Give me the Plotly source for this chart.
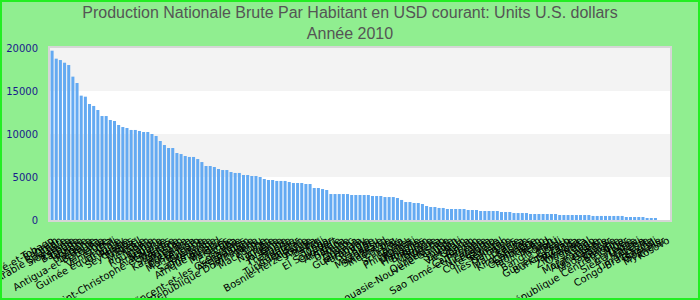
import plotly.graph_objects as go

countries = [
    "Trinité-et-Tobago", "Bahreïn", "Oman", "Arabie Saoudite", "Slovaquie", "Estonie", "Barbade",
    "Croatie", "Hongrie", "Pologne", "Lettonie", "Antigua-et-Barbuda", "Lituanie", "Libye",
    "Venezuela", "Chili", "Guinée équatoriale", "Uruguay", "Russie", "Seychelles", "Turquie",
    "Brésil", "Mexique", "Liban", "Roumanie", "Gabon", "Argentine",
    "Malaisie", "Saint-Christophe-et-Niévès", "Maurice", "Suriname", "Kazakhstan", "Panama", "Botswana", "Costa Rica",
    "Monténégro", "Bulgarie", "Grenade", "Sainte-Lucie", "Dominique", "Afrique du Sud", "Bélarus",
    "Maldives", "Serbie", "Cuba", "Colombie", "Saint-Vincent-et-les Grenadines", "Azerbaïdjan",
    "Jamaïque", "République Dominicaine", "Pérou", "Macédoine", "Iran", "Namibie", "Algérie",
    "Jordanie", "Chine", "Thaïlande", "Tunisie", "Équateur", "Turkménistan", "Albanie",
    "Bosnie-Herzégovine", "Angola", "Belize", "Fidji", "Tonga", "El Salvador", "Cap-Vert",
    "Arménie", "Samoa", "Ukraine", "Maroc", "Guyana", "Guatemala", "Paraguay", "Géorgie", "Syrie",
    "Vanuatu", "Micronésie", "Swaziland", "Indonésie", "Égypte", "Irak", "Sri Lanka", "Tuvalu",
    "Philippines", "Kiribati", "Mongolie", "Honduras", "Bhoutan", "Bolivie", "Moldavie", "Nigéria",
    "Ouzbékistan", "Papouasie-Nouvelle-Guinée", "Inde", "Soudan", "Djibouti", "Viet Nam", "Ghana",
    "Yémen", "Cameroun", "Sao Tomé-et-Principe", "Zambie", "Nicaragua", "Lesotho", "Côte d'Ivoire",
    "Sénégal", "Pakistan", "Îles Salomon", "Laos", "Mauritanie", "Kenya", "Kirghizistan", "Comores",
    "Cambodge", "Tadjikistan", "Bénin", "Tchad", "Bangladesh", "Haïti", "Mali", "Guinée-Bissau",
    "Burkina Faso", "Tanzanie", "Rwanda", "Zimbabwe", "Ouganda", "Népal", "Togo", "Mozambique",
    "Afghanistan", "Gambie", "Madagascar", "Guinée", "Éthiopie", "République Centrafricaine",
    "Niger", "Érythrée", "Sierra Leone", "Malawi", "Libéria", "Timor-Leste", "Congo-Brazzaville",
    "Burundi", "Somalie", "Myanmar", "Kosovo",
]

values = [
    19690, 18760, 18600, 18290, 18020, 16670, 15930, 14460, 14340, 13490,
    13260, 12790, 12090, 12090, 11630, 11510, 11050, 10810, 10700, 10470,
    10470, 10350, 10230, 10230, 10000, 9770, 9190, 8720, 8370, 8370,
    7790, 7670, 7440, 7330, 7330, 7090, 6740, 6280, 6280, 6160,
    5930, 5810, 5810, 5580, 5470, 5470, 5230, 5230, 5120, 5120,
    5000, 4770, 4650, 4650, 4540, 4540, 4540, 4420, 4300, 4300,
    4300, 4190, 4190, 3720, 3720, 3600, 3490, 3020, 3020, 3020,
    3020, 3020, 2910, 2910, 2910, 2910, 2910, 2790, 2790, 2790,
    2670, 2670, 2670, 2560, 2330, 2090, 2090, 1980, 1980, 1860,
    1630, 1510, 1510, 1400, 1400, 1280, 1280, 1280, 1280, 1280,
    1160, 1160, 1160, 1050, 1050, 1050, 1050, 1050, 930, 930,
    930, 810, 810, 810, 810, 700, 700, 700, 700, 700,
    700, 700, 580, 580, 580, 580, 580, 580, 580, 580,
    470, 470, 470, 470, 470, 470, 470, 470, 350, 350,
    350, 350, 350, 230, 230, 230, None, None, None,
]

assert len(countries) == len(values)

band_ranges = [(5000, 10000), (15000, 20000)]
y_ticks = [0, 5000, 10000, 15000, 20000]
title_lines = ["Production Nationale Brute Par Habitant en USD courant: Units U.S. dollars", "Année 2010"]

fig = go.Figure()
fig.add_trace(go.Bar(x=countries, y=values, marker=dict(color="#64aaf2", line=dict(width=0))))

W, H = 700, 300
ml, mr, mt, mb = 50, 30, 48, 80
pw, ph = W - ml - mr, H - mt - mb

shapes = []
for lo, hi in band_ranges:
    shapes.append(dict(type="rect", xref="paper", yref="y", x0=0, x1=1, y0=lo, y1=hi,
                       fillcolor="#f3f3f3", line=dict(width=0), layer="below"))
# outer green frame
shapes.append(dict(type="rect", xref="paper", yref="paper",
                   x0=(1 - ml) / pw, x1=(W - 1 - ml) / pw,
                   y0=-(H - 1 - mt - ph) / ph, y1=(ph + mt - 1) / ph,
                   line=dict(color="#22ee22", width=2), fillcolor="rgba(0,0,0,0)", layer="above"))

fig.update_layout(
    width=W, height=H,
    margin=dict(l=ml, r=mr, t=mt, b=mb, autoexpand=False),
    paper_bgcolor="#90ee90", plot_bgcolor="#ffffff",
    title=dict(text="<br>".join(title_lines),
               x=0.5, xanchor="center", y=1 - 18 / H, yanchor="top", yref="container",
               font=dict(family="Liberation Sans, Arial", size=16, color="#555555")),
    bargap=0.27,
    showlegend=False,
    shapes=shapes,
)
fig.update_xaxes(tickmode="array", tickvals=countries, ticktext=countries, tickangle=-30,
                 tickfont=dict(family="DejaVu Sans", size=10, color="#000000"),
                 showgrid=False, showline=True, linecolor="#d6d6d6", linewidth=2, mirror=True,
                 ticks="", ticklabelstandoff=9, automargin=False)
fig.update_yaxes(range=[0, 20000], tickmode="array", tickvals=y_ticks, ticktext=[str(t) for t in y_ticks],
                 tickfont=dict(family="DejaVu Sans", size=10, color="#1a1a8c"),
                 showgrid=False, zeroline=False, showline=True, linecolor="#d6d6d6", linewidth=2, mirror=True,
                 ticks="", ticklabelstandoff=8, automargin=False)

fig.write_html("out.html")
